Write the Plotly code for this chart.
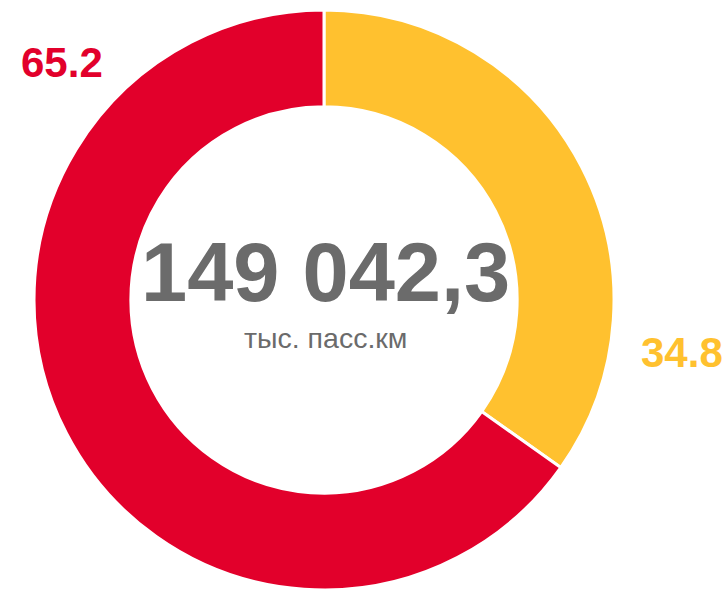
import plotly.graph_objects as go

categories = ["Доля 1", "Доля 2"]
values = [34.8, 65.2]
colors = ["#FFC12F", "#E2002B"]
total_text = "149 042,3"
unit_text = "тыс. пасс.км"

W, H = 722, 590


def px(x):
    return x / W


def py(y):
    return 1 - y / H


fig = go.Figure(go.Pie(
    labels=categories,
    values=values,
    hole=0.666,
    sort=False,
    direction="clockwise",
    rotation=0,
    marker=dict(colors=colors, line=dict(color="white", width=3)),
    textinfo="none",
    hoverinfo="label+value",
    showlegend=False,
    domain=dict(x=[px(33.5), px(614.5)], y=[py(590), py(10)]),
))

font_family = "Liberation Sans, Arial, sans-serif"
common = dict(xref="paper", yref="paper", showarrow=False,
              xanchor="center", yanchor="middle")
fig.add_annotation(x=px(682), y=py(352), text=f"<b>{values[0]:.1f}</b>",
                   font=dict(size=42, color=colors[0], family=font_family), **common)
fig.add_annotation(x=px(62), y=py(62), text=f"<b>{values[1]:.1f}</b>",
                   font=dict(size=42, color=colors[1], family=font_family), **common)
fig.add_annotation(x=px(325.5), y=py(273), text=f"<b>{total_text}</b>",
                   font=dict(size=83, color="#6B6B6B", family=font_family), **common)
fig.add_annotation(x=px(325), y=py(338), text=unit_text,
                   font=dict(size=28.5, color="#6B6B6B", family=font_family), **common)

fig.update_layout(width=W, height=H, margin=dict(l=0, r=0, t=0, b=0),
                  paper_bgcolor="white", plot_bgcolor="white")
fig.write_html("out.html",
               config={"displayModeBar": False},
               post_script="document.body.style.margin='0';"
                           "document.body.style.overflow='hidden';")
